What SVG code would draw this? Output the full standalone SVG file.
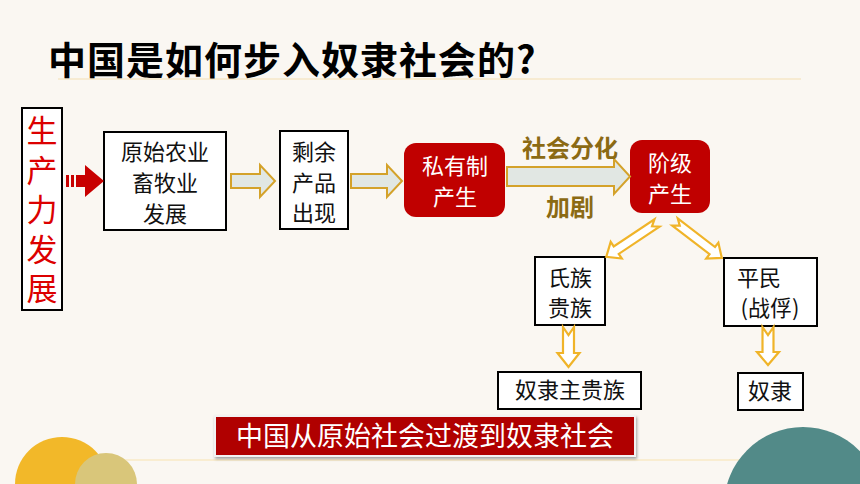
<svg xmlns="http://www.w3.org/2000/svg" width="860" height="484" viewBox="0 0 860 484">
<defs>
<style>
.bg{fill:#faf7f2}
.box{fill:#ffffff;stroke:#000000;stroke-width:2}
.red{fill:#c00000}
.t{font-family:"Noto Sans CJK SC","Noto Sans",sans-serif;text-anchor:middle}
.bk{fill:#111111;font-size:22px}
.wt{fill:#ffffff;font-size:22px}
.lbl{fill:#8b6a14;font-size:24px;font-weight:bold}
.harrow{fill:#e1e7e3;stroke:#d4a22a;stroke-width:2;stroke-linejoin:miter}
.yarrow{fill:#ffffff;stroke:#f0b429;stroke-width:2.2;stroke-linejoin:miter}
</style>
<filter id="sh" x="-5%" y="-20%" width="110%" height="150%">
<feDropShadow dx="1" dy="2" stdDeviation="1.5" flood-color="#000" flood-opacity="0.35"/>
</filter>
</defs>
<rect class="bg" x="0" y="0" width="860" height="484"/>

<g id="decor">
<line x1="58" y1="79" x2="801" y2="79" stroke="#f3dfb2" stroke-width="1.2"/>
<line x1="110" y1="460" x2="760" y2="460" stroke="#f7e3b0" stroke-width="1.2"/>
<circle cx="62" cy="484" r="47" fill="#f2b829"/>
<circle cx="106" cy="484" r="31" fill="#d9c67a"/>
<circle cx="803" cy="506" r="79" fill="#528a88"/>
</g>

<g id="title">
<text class="t" x="48" y="74" style="text-anchor:start;font-size:38px;font-weight:bold;fill:#000;letter-spacing:1px">中国是如何步入奴隶社会的?</text>
</g>

<g id="node-productivity">
<rect class="box" x="22" y="108" width="40" height="202"/>
<text x="42" y="115" style="font-family:'Noto Sans CJK SC','Noto Sans',sans-serif;writing-mode:vertical-rl;text-anchor:start;font-size:31px;letter-spacing:8.5px;fill:#dc0000">生产力发展</text>
</g>

<g id="node-agri">
<rect class="box" x="104" y="132" width="122" height="98"/>
<text class="t bk" x="165" y="160">原始农业</text>
<text class="t bk" x="165" y="191">畜牧业</text>
<text class="t bk" x="165" y="222">发展</text>
</g>

<g id="node-surplus">
<rect class="box" x="280" y="131" width="68" height="98"/>
<text class="t bk" x="314" y="160">剩余</text>
<text class="t bk" x="314" y="191">产品</text>
<text class="t bk" x="314" y="221">出现</text>
</g>

<g id="node-private">
<rect class="red" x="404" y="143" width="101" height="74" rx="12"/>
<text class="t wt" x="455" y="174">私有制</text>
<text class="t wt" x="455" y="205">产生</text>
</g>

<g id="node-class">
<rect class="red" x="630" y="140" width="80" height="73" rx="12"/>
<text class="t wt" x="670" y="171">阶级</text>
<text class="t wt" x="670" y="202">产生</text>
</g>

<g id="node-clan">
<rect class="box" x="535" y="257" width="70" height="68"/>
<text class="t bk" x="570" y="286">氏族</text>
<text class="t bk" x="570" y="316">贵族</text>
</g>

<g id="node-commoner">
<rect class="box" x="724" y="258" width="93" height="68"/>
<text class="t bk" x="759" y="286">平民</text>
<text class="t bk" x="770" y="316">(战俘)</text>
</g>

<g id="node-slaveowner">
<rect class="box" x="498" y="372" width="143" height="37"/>
<text class="t bk" x="570" y="398">奴隶主贵族</text>
</g>

<g id="node-slave">
<rect class="box" x="738" y="373" width="65" height="37"/>
<text class="t bk" x="770" y="399">奴隶</text>
</g>

<g id="connectors">
<g fill="#c80000">
<rect x="66" y="175" width="3" height="12"/>
<rect x="71" y="175" width="3" height="12"/>
<rect x="76" y="175" width="10" height="12"/>
<path d="M85,165 L104,181 L85,197 Z"/>
</g>
<path class="harrow" d="M231,174 L260,174 L260,165 L275,181 L260,197 L260,188 L231,188 Z"/>
<path class="harrow" d="M351,174 L387,174 L387,165 L402,181 L387,197 L387,188 L351,188 Z"/>
<path class="harrow" d="M507,167 L614,167 L614,159 L630,176.5 L614,194 L614,186 L507,186 Z"/>
<text class="t lbl" x="570" y="157">社会分化</text>
<text class="t lbl" x="570" y="216">加剧</text>
<path class="yarrow" transform="translate(657,223) rotate(56.3)" d="M-4.5,0 L0,6 L4.5,0 L4.5,49 L10,49 L0,61 L-10,49 L-4.5,49 Z"/>
<path class="yarrow" transform="translate(675,222) rotate(-52.5)" d="M-4.5,0 L0,6 L4.5,0 L4.5,47 L10,47 L0,59 L-10,47 L-4.5,47 Z"/>
<path class="yarrow" transform="translate(568.5,327)" d="M-5.5,0 L0,8 L5.5,0 L5.5,26 L11,26 L0,40 L-11,26 L-5.5,26 Z"/>
<path class="yarrow" transform="translate(768,327)" d="M-5.5,0 L0,8 L5.5,0 L5.5,25 L11,25 L0,38 L-11,25 L-5.5,25 Z"/>
</g>

<g id="banner">
<rect x="215" y="416" width="420" height="40" fill="#b00000" stroke="#f2f2f2" stroke-width="2" filter="url(#sh)"/>
<text class="t" x="425" y="446" style="font-size:27px;fill:#ffffff">中国从原始社会过渡到奴隶社会</text>
</g>
</svg>
